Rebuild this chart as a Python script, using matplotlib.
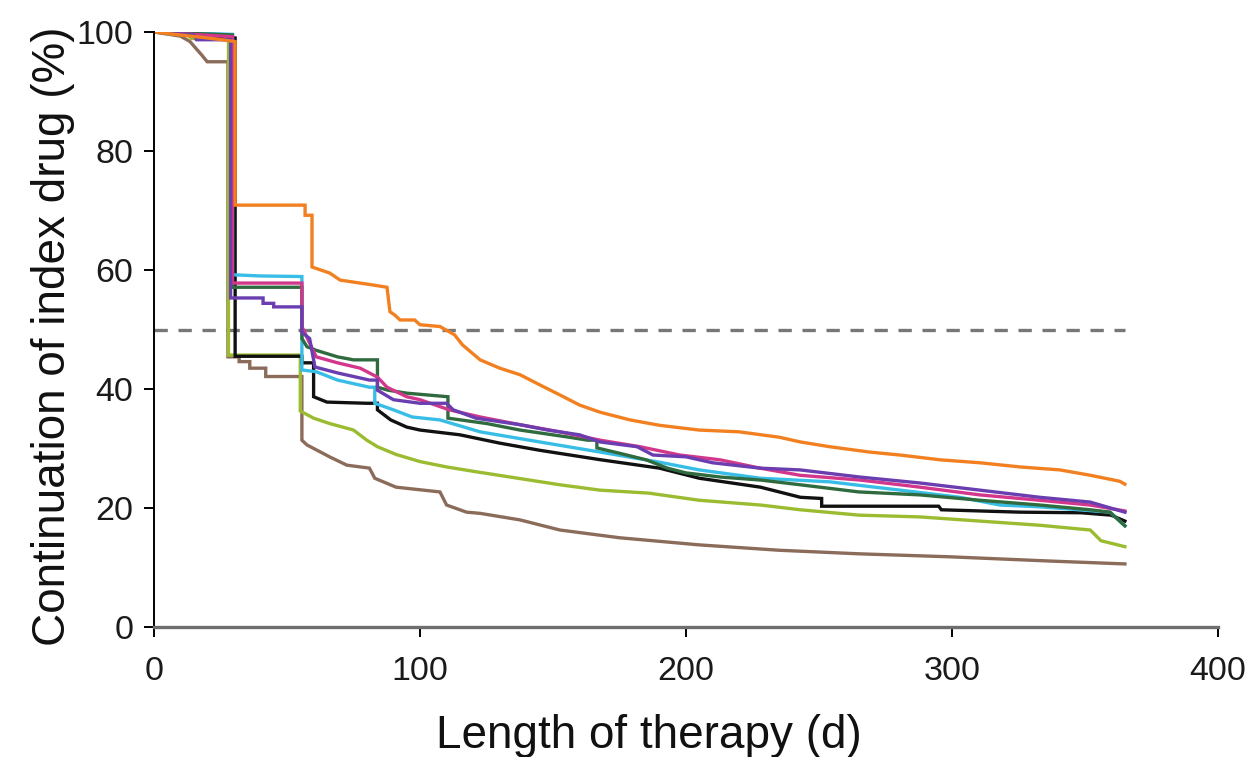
import matplotlib
matplotlib.use("Agg")
import matplotlib.pyplot as plt

# Persistence curves: days on therapy vs. percent still on the index drug.
# Repeated days mark the vertical drops at the refill dates.
orange_days = [0, 10, 20, 30.5, 30.5, 56.8, 56.8, 59.4, 59.4, 66, 70, 82, 87.6, 88.7, 90.6, 92.5, 98,
               100, 107.5, 113, 116, 122.6, 130, 137.6, 145, 152.6, 160, 167.7, 179, 190, 205, 220,
               235, 243, 254, 269, 280.5, 295.5, 310.5, 325.6, 340.6, 352, 363, 365]
orange_pct = [100, 99.5, 99, 98.4, 70.9, 70.9, 69.2, 69.2, 60.5, 59.5, 58.3, 57.5, 57.1, 53, 52.4, 51.6,
              51.6, 50.8, 50.5, 49.1, 47.4, 44.9, 43.5, 42.4, 40.7, 39.0, 37.3, 36.1, 34.8, 33.9, 33.1,
              32.8, 31.9, 31.1, 30.3, 29.4, 28.9, 28.1, 27.6, 26.9, 26.4, 25.5, 24.5, 24.0]

brown_days = [0, 10, 13.5, 18, 20, 27.8, 27.8, 32, 32, 36, 36, 42, 42, 55.6, 55.6, 57.5, 66, 72.5, 81,
              83, 91, 107.5, 110, 117.5, 122.6, 137.6, 152.6, 175, 205, 235, 265, 299, 336, 365]
brown_pct = [100, 99.3, 98.4, 96.1, 95, 95, 45.4, 45.4, 44.6, 44.6, 43.5, 43.5, 42.1, 42.1, 31.4, 30.6,
             28.6, 27.2, 26.7, 25.0, 23.5, 22.7, 20.5, 19.3, 19.1, 18.0, 16.3, 15.0, 13.8, 12.9, 12.3,
             11.8, 11.1, 10.6]

olive_days = [0, 13, 14, 28, 28, 55, 55, 60, 66, 75, 80, 84, 91, 100, 110, 121, 152.6, 167.7, 186,
              205, 228, 243, 265, 288, 310.5, 333, 352, 356, 365]
olive_pct = [100, 99.4, 98.9, 98.9, 45.7, 45.7, 36.3, 35.1, 34.2, 33.1, 31.4, 30.3, 29.0, 27.8, 26.9,
             26.1, 23.9, 23.0, 22.5, 21.3, 20.5, 19.7, 18.8, 18.5, 17.8, 17.1, 16.3, 14.5, 13.5]

black_days = [0, 20, 30.5, 30.5, 55.6, 55.6, 60, 60, 65, 80, 84, 84, 89, 95, 100, 115, 130, 145, 168,
              190, 205, 228, 243, 251, 251, 295, 296, 325.6, 348.5, 359.8, 365]
black_pct = [100, 99.5, 99, 45.5, 45.5, 44.4, 44.4, 38.7, 37.8, 37.6, 37.6, 36.5, 34.8, 33.6, 33.1, 32.3,
             30.9, 29.7, 28.1, 26.7, 25.0, 23.5, 21.8, 21.6, 20.3, 20.3, 19.7, 19.3, 19.2, 18.8, 17.8]

cyan_days = [0, 29.5, 29.5, 40, 55.6, 55.6, 61, 69, 81, 83, 83, 90, 97, 107.5, 122.6, 145, 167.7, 190,
             205, 228, 254, 280.5, 303, 318, 333, 348, 359.4, 365]
cyan_pct = [100, 99.6, 59.2, 59.0, 58.9, 43.2, 42.9, 41.5, 40.3, 40.3, 37.6, 36.5, 35.3, 34.8, 32.8,
            31.1, 29.4, 27.7, 26.4, 25.0, 24.4, 23.0, 21.8, 20.5, 20.2, 19.7, 19.3, 17.0]

green_days = [0, 29.5, 29.5, 55.6, 55.6, 57.5, 61, 69, 75, 84, 84, 88, 95, 110.5, 110.5, 125, 137.6,
              156, 163, 166.5, 166.5, 175, 185, 193, 200, 213, 228, 243, 265, 288, 310.5, 333, 352,
              359.4, 365]
green_pct = [100, 99.5, 57.1, 57.1, 48.5, 47.1, 46.5, 45.4, 44.9, 44.9, 40.3, 39.8, 39.3, 38.7, 35.1,
             34.2, 33.1, 31.9, 31.4, 31.4, 30.1, 29.2, 28.1, 26.7, 25.9, 25.2, 24.7, 23.9, 22.7, 22.2,
             21.3, 20.5, 19.7, 19.3, 17.0]

magenta_days = [0, 29.5, 29.5, 55.6, 55.6, 58, 61, 69, 77.5, 84, 87.6, 95, 100, 111, 122.6, 137.6,
                152.6, 167.7, 182.7, 197.7, 212.8, 227.8, 242.9, 265.4, 288, 310.5, 333, 351.9, 365]
magenta_pct = [100, 99.2, 57.8, 57.8, 50.5, 48.2, 45.4, 44.4, 43.5, 42.0, 40.3, 38.7, 38.2, 36.5, 35.3,
               34.0, 32.8, 31.4, 30.3, 28.9, 28.1, 26.7, 25.5, 24.7, 23.5, 22.2, 21.3, 20.5, 19.5]

purple_days = [0, 15, 16, 28.8, 28.8, 41, 41, 45, 45, 55.6, 55.6, 58.5, 60.5, 69, 81, 84, 84, 90, 100,
               110, 112.5, 121, 137.6, 148, 160, 167.7, 181.6, 187.6, 200, 210, 227.8, 242.9, 265.4,
               288, 310.5, 333, 351.9, 365]
purple_pct = [100, 99.5, 98.7, 98.7, 55.3, 55.3, 54.4, 54.4, 53.8, 53.8, 49.5, 48.5, 43.7, 42.7, 41.5,
              41.5, 39.8, 38.2, 37.6, 37.6, 36.5, 35.1, 34.0, 33.1, 32.3, 31.1, 30.3, 28.9, 28.6, 27.6,
              26.7, 26.4, 25.2, 24.2, 23.0, 21.8, 21.0, 19.3]

median_line = 50
followup_end = 365

series = [
    (brown_days, brown_pct, "#8b6b5a"),
    (olive_days, olive_pct, "#9bbb30"),
    (black_days, black_pct, "#111111"),
    (cyan_days, cyan_pct, "#38bde6"),
    (green_days, green_pct, "#2f6b3e"),
    (magenta_days, magenta_pct, "#d2378c"),
    (purple_days, purple_pct, "#6a3db0"),
    (orange_days, orange_pct, "#f28020"),
]

plt.rcParams["font.family"] = ["Liberation Sans", "DejaVu Sans"]

fig = plt.figure(figsize=(12.47, 7.57), dpi=100)
ax = fig.add_axes([154 / 1247, 130 / 757, 1064 / 1247, 595 / 757])

ax.hlines(median_line, 0, followup_end, colors="#777777", linestyles=(0, (4, 3.2)), linewidth=2.4)
for d, p, c in series:
    ax.plot(d, p, color=c, linewidth=2.4, solid_joinstyle="miter")

ax.set_xlim(0, 400)
ax.set_ylim(0, 100)
ax.set_xticks([0, 100, 200, 300, 400])
ax.set_yticks([0, 20, 40, 60, 80, 100])

for s in ("top", "right"):
    ax.spines[s].set_visible(False)
ax.spines["left"].set_color("black")
ax.spines["left"].set_linewidth(1.4)
ax.spines["bottom"].set_color("#6e6e6e")
ax.spines["bottom"].set_linewidth(2.4)
ax.tick_params(axis="both", direction="out", length=7, width=1.4, color="black",
               labelsize=24.5, labelcolor="#1a1a1a")
ax.tick_params(axis="x", pad=14)
ax.tick_params(axis="y", pad=8)

fig.text(649 / 1247, 1 - 748 / 757, "Length of therapy (d)", ha="center", va="baseline",
         fontsize=33, color="#111111")
fig.text(53 / 1247, 1 - 336 / 757, "Continuation of index drug (%)", ha="center", va="center",
         rotation=90, fontsize=33, color="#111111")

fig.savefig("out.png", dpi=100)
